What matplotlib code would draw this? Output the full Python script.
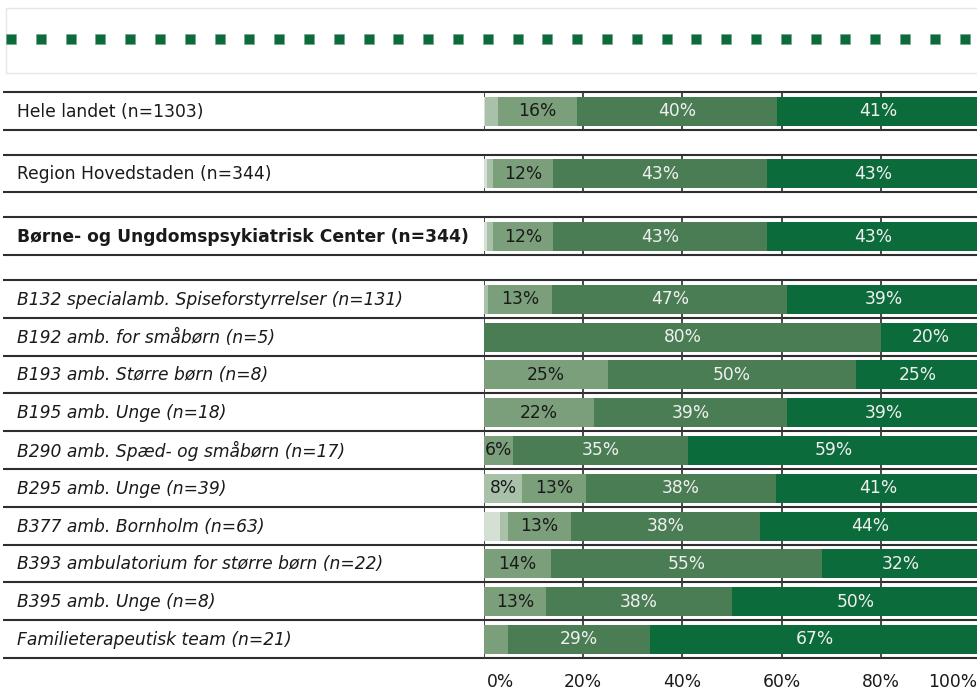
import numpy as np
import matplotlib
matplotlib.use("Agg")
import matplotlib.pyplot as plt
from matplotlib.patches import Rectangle

# ---------------- data ----------------
labels = [
    "Hele landet (n=1303)",
    "Region Hovedstaden (n=344)",
    "Børne- og Ungdomspsykiatrisk Center (n=344)",
    "B132 specialamb. Spiseforstyrrelser (n=131)",
    "B192 amb. for småbørn (n=5)",
    "B193 amb. Større børn (n=8)",
    "B195 amb. Unge (n=18)",
    "B290 amb. Spæd- og småbørn (n=17)",
    "B295 amb. Unge (n=39)",
    "B377 amb. Bornholm (n=63)",
    "B393 ambulatorium for større børn (n=22)",
    "B395 amb. Unge (n=8)",
    "Familieterapeutisk team (n=21)",
]
label_weight = ["normal", "normal", "bold"] + ["normal"] * 10
label_style = ["normal", "normal", "normal"] + ["italic"] * 10

lightest = [0.3, 0.6, 0.6, 0.0, 0.0, 0.0, 0.0, 0.0, 0.0, 3.2, 0.0, 0.0, 0.0]
light    = [2.5, 1.2, 1.2, 0.8, 0.0, 0.0, 0.0, 0.0, 7.7, 1.6, 0.0, 0.0, 0.0]
medlight = [15.9, 12.2, 12.2, 13.0, 0.0, 25.0, 22.2, 5.9, 12.8, 12.7, 13.6, 12.5, 4.8]
medium   = [40.3, 43.0, 43.0, 47.3, 80.0, 50.0, 38.9, 35.3, 38.4, 38.1, 54.5, 37.5, 28.6]
dark     = [41.0, 43.0, 43.0, 38.9, 20.0, 25.0, 38.9, 58.8, 41.1, 44.4, 31.8, 50.0, 66.7]

tick_values = [0, 20, 40, 60, 80, 100]
tick_labels = ["0%", "20%", "40%", "60%", "80%", "100%"]

# ---------------- style ----------------
series = [lightest, light, medlight, medium, dark]
colors = ["#d4e0d4", "#a8c1a8", "#7b9f7b", "#4a7d54", "#0c6b3b"]
text_colors = ["#1a1a1a", "#1a1a1a", "#1a1a1a", "#f0f0f0", "#f0f0f0"]
FS = 12.3

W, H = 978, 691
fig = plt.figure(figsize=(W / 100, H / 100), dpi=100)
ax0 = fig.add_axes([0, 0, 1, 1])
ax0.set_xlim(0, W)
ax0.set_ylim(H, 0)
ax0.axis("off")

x0_px, x100_px = 484, 980
axb = fig.add_axes([x0_px / W, 0, (x100_px - x0_px) / W, 1])
axb.set_xlim(0, 100)
axb.set_ylim(H, 0)
axb.axis("off")

n = len(labels)
band_h = 37.8
band_tops = [92 + 62.7 * i for i in range(3)] + [280 + band_h * j for j in range(10)]
centers = np.array([t + 19.2 for t in band_tops])

# grid / separators inside bands
for t in band_tops:
    axb.vlines([0, 20, 40, 60, 80], t, t + band_h, color="#3a3a3a", lw=1.3, zorder=1)

# horizontal row lines
ys = sorted(set([round(t, 0) for t in band_tops] + [round(t + band_h, 0) for t in band_tops]))
ax0.hlines(ys, 3, W, color="#2e2e2e", lw=1.5, zorder=1)

# bars
left = np.zeros(n)
for k, vals in enumerate(series):
    v = np.array(vals, dtype=float)
    axb.barh(centers, v, left=left, height=29, color=colors[k], zorder=2, linewidth=0)
    for c, l, val in zip(centers, left, v):
        if val >= 5.5:
            axb.text(l + val / 2, c, f"{int(val + 0.5)}%", ha="center", va="center",
                     color=text_colors[k], fontsize=FS, zorder=3)
    left += v

# category labels
for i, lab in enumerate(labels):
    ax0.text(17, centers[i] + 0.5, lab, ha="left", va="center", fontsize=FS,
             fontweight=label_weight[i], fontstyle=label_style[i], color="#1a1a1a")

# tick labels
for tv, tl in zip(tick_values, tick_labels):
    if tv == 0:
        axb.text(tv + 0.6, 682, tl, ha="left", va="center", fontsize=FS, color="#1a1a1a")
    elif tv == 100:
        axb.text(tv - 0.6, 682, tl, ha="right", va="center", fontsize=FS, color="#1a1a1a")
    else:
        axb.text(tv, 682, tl, ha="center", va="center", fontsize=FS, color="#1a1a1a")

# decorative header box with dotted line
ax0.add_patch(Rectangle((6, 8), W, 65, fill=False, ec="#e6e6e6", lw=1))
xs = 11 + 29.8 * np.arange(33)
ax0.plot(xs, np.full(33, 39.0), ls="none", marker="s", ms=7.2,
         mfc="#0b6b3a", mec="#6fa285", mew=0.4)

fig.savefig("out.png", dpi=100)
